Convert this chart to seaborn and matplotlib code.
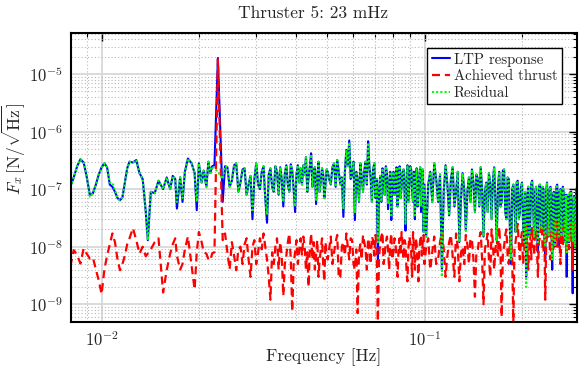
import matplotlib
matplotlib.use("Agg")
import matplotlib.pyplot as plt
import seaborn as sns
import pandas as pd

# ---------------- data ----------------
# frequency in mHz
freq_mhz = [
    8.0, 8.2, 8.4, 8.6, 8.8, 9.0, 9.2, 9.4, 9.6, 9.8,
    10.0, 10.2, 10.4, 10.6, 10.8, 11.0, 11.2, 11.4, 11.6, 11.8,
    12.0, 12.2, 12.5, 12.8, 13.1, 13.4, 13.7, 13.9, 14.2, 14.6,
    15.0, 15.5, 15.9, 16.3, 16.6, 16.9, 17.1, 17.5, 17.8, 18.1,
    18.5, 19.0, 19.4, 19.7, 20.0, 20.4, 20.7, 21.1, 21.4, 21.7,
    22.0, 22.35, 22.9, 23.7, 24.1,
    24.5, 24.9, 25.3, 25.7, 26.1, 26.5, 26.9, 27.3, 27.7, 28.1,
    28.5, 28.9, 29.3, 29.7, 30.1, 30.5, 30.9, 31.3, 31.7, 32.1,
    32.5, 32.9, 33.3, 33.7, 34.1, 34.5, 34.9, 35.3, 35.7, 36.1,
    36.5, 36.9, 37.3, 37.7, 38.1, 38.5, 38.9, 39.3, 39.7, 40.1,
    40.5, 40.9, 41.3, 41.7, 42.1, 42.5, 42.9, 43.3, 43.7, 44.1,
    44.5, 44.9, 45.3, 45.7, 46.1, 46.5, 46.9, 47.3, 47.7, 48.1,
    48.5, 48.9, 49.3, 49.7, 50.1,
    50.6, 51.2, 51.8, 52.4, 53.0, 53.6, 54.2, 54.8, 55.4, 56.0,
    56.6, 57.2, 57.8, 58.4, 59.0, 59.6, 60.2, 60.8, 61.4, 62.0,
    62.6, 63.2, 63.8, 64.4, 65.0, 65.6, 66.2, 66.8, 67.4, 68.0,
    68.6, 69.2, 69.8, 70.4, 71.0, 71.6, 72.2, 72.8, 73.4, 74.0,
    74.6, 75.2, 75.8, 76.4, 77.0, 77.6, 78.2, 78.8, 79.4, 80.0,
    80.6, 81.2, 81.8, 82.4, 83.0, 83.6, 84.2, 84.8, 85.4, 86.0,
    86.6, 87.2, 87.8, 88.4, 89.0, 89.6, 90.2, 90.8, 91.4, 92.0,
    92.6, 93.2, 93.8, 94.4, 95.0, 95.6, 96.2, 96.8, 97.4, 98.0,
    98.6, 99.2, 99.8,
    101, 102.5, 104, 105.5, 107, 108.5, 110, 111.5, 113, 114.5,
    116, 117.5, 119, 120.5, 122, 123.5, 125, 126.5, 128, 129.5,
    131, 132.5, 134, 135.5, 137, 138.5, 140, 141.5, 143, 144.5,
    146, 147.5, 149, 150.5, 152, 153.5, 155, 156.5, 158, 159.5,
    161, 162.5, 164, 165.5, 167, 168.5, 170, 171.5, 173, 174.5,
    176, 177.5, 179, 180.5, 182, 183.5, 185, 186.5, 188, 189.5,
    191, 192.5, 194, 195.5, 197, 198.5, 200, 201.5, 203, 204.5,
    206, 207.5, 209, 210.5, 212, 213.5, 215, 216.5, 218, 219.5,
    221, 222.5, 224, 225.5, 227, 228.5, 230, 231.5, 233, 234.5,
    236, 237.5, 239, 240.5, 242, 243.5, 245, 246.5, 248, 249.5,
    251, 252.5, 254, 255.5, 257, 258.5, 260, 261.5, 263, 264.5,
    266, 267.5, 269, 270.5, 272, 273.5, 275, 276.5, 278, 279.5,
    281, 282.5, 284, 285.5, 287, 288.5, 290, 291.5, 293, 294.5,
    296, 297.5, 299,
]

# amplitude spectral densities in nN/sqrt(Hz)
ltp_response = [
    110, 160, 250, 330, 290, 160, 78, 85, 120, 180,
    240, 280, 240, 120, 110, 90, 70, 64, 72, 130,
    230, 300, 290, 320, 190, 150, 40, 13, 90, 85,
    140, 100, 160, 100, 170, 150, 46, 160, 60, 200,
    340, 280, 190, 43, 280, 130, 210, 110, 300, 190,
    250, 260, 19000, 60, 250,
    240, 110, 140, 260, 280, 90, 130, 220, 230, 80,
    120, 170, 30, 150, 280, 120, 100, 200, 250, 70,
    26, 180, 230, 110, 90, 250, 200, 80, 240, 150,
    50, 190, 260, 120, 90, 270, 210, 100, 40, 180,
    260, 130, 230, 120, 260, 180, 360, 90, 160, 250,
    420, 110, 200, 240, 55, 160, 300, 90, 140, 230,
    180, 70, 120, 220, 200,
    150, 120, 240, 280, 110, 320, 200, 120, 160, 33,
    200, 480, 250, 700, 150, 180, 300, 29, 200, 150,
    60, 280, 170, 90, 210, 300, 120, 680, 250, 160,
    60, 220, 280, 70, 150, 5, 90, 170, 60, 230,
    150, 80, 250, 190, 45, 120, 200, 29, 150, 200,
    80, 130, 240, 50, 150, 250, 70, 110, 200, 220,
    90, 19, 150, 260, 60, 120, 250, 220, 90, 60,
    200, 30, 130, 230, 50, 100, 170, 240, 40, 130,
    220, 18, 120,
    15, 120, 200, 60, 280, 150, 60, 180, 4, 90,
    260, 120, 35, 150, 240, 50, 90, 200, 12, 70,
    190, 100, 19, 90, 160, 60, 220, 130, 40, 180,
    150, 50, 240, 100, 15, 90, 130, 40, 190, 120,
    30, 140, 240, 60, 13, 110, 200, 50, 60, 210,
    220, 40, 30, 160, 150, 20, 5, 100, 120, 50,
    18, 130, 140, 30, 40, 110, 130, 25, 12, 90,
    3, 60, 110, 15, 25, 120, 140, 50, 15, 90,
    110, 20, 8, 100, 120, 30, 20, 110, 100, 15,
    6, 90, 130, 40, 15, 100, 110, 25, 4, 80,
    90, 10, 20, 110, 120, 30, 10, 90, 100, 15,
    30, 110, 90, 20, 12, 80, 3, 60, 80, 12,
    15, 90, 90, 20, 1.55, 60, 75, 10, 15, 100,
    80, 20, 30,
]

residual = [
    110, 160, 250, 330, 290, 160, 74, 85, 120, 180,
    240, 280, 240, 130, 130, 95, 70, 64, 72, 130,
    230, 300, 290, 320, 190, 150, 40, 13, 90, 85,
    140, 100, 160, 100, 170, 150, 60, 160, 70, 200,
    340, 280, 190, 60, 280, 130, 210, 110, 300, 190,
    250, 230, 200, 150, 250,
    240, 110, 140, 260, 280, 90, 130, 220, 230, 80,
    120, 170, 40, 150, 280, 120, 100, 200, 250, 70,
    36, 180, 230, 110, 90, 250, 200, 80, 240, 150,
    60, 190, 260, 120, 90, 270, 210, 100, 50, 180,
    260, 130, 230, 120, 260, 180, 360, 90, 160, 250,
    400, 110, 200, 240, 65, 160, 300, 90, 140, 230,
    180, 70, 120, 220, 200,
    150, 120, 240, 280, 110, 320, 200, 120, 160, 45,
    200, 460, 250, 650, 150, 180, 300, 40, 200, 150,
    60, 280, 170, 90, 210, 300, 120, 640, 250, 160,
    60, 220, 280, 70, 150, 12, 90, 170, 60, 230,
    150, 80, 250, 190, 55, 120, 200, 35, 150, 200,
    80, 130, 240, 50, 150, 250, 70, 110, 200, 220,
    90, 25, 150, 260, 60, 120, 250, 220, 90, 60,
    200, 35, 130, 230, 50, 100, 170, 240, 50, 130,
    220, 18, 120,
    15, 120, 200, 60, 280, 150, 60, 180, 3, 90,
    260, 120, 35, 150, 240, 50, 90, 200, 12, 70,
    190, 100, 19, 90, 160, 60, 220, 130, 40, 180,
    150, 50, 240, 100, 15, 90, 130, 40, 190, 120,
    30, 140, 240, 60, 13, 110, 200, 50, 60, 210,
    220, 40, 30, 160, 150, 20, 6, 100, 120, 50,
    18, 130, 140, 30, 40, 110, 130, 25, 12, 90,
    2, 60, 110, 15, 25, 120, 140, 50, 15, 90,
    110, 20, 12, 100, 120, 30, 20, 110, 100, 15,
    10, 90, 130, 40, 15, 100, 110, 25, 6, 80,
    90, 10, 20, 110, 120, 30, 14, 90, 100, 15,
    30, 110, 90, 20, 12, 80, 8, 60, 80, 12,
    15, 90, 90, 20, 12, 60, 75, 10, 15, 100,
    110, 60, 110,
]

achieved_thrust = [
    4.5, 8.7, 7.1, 5.1, 9.3, 7.5, 6.2, 6.5, 4.0, 2.6,
    1.5, 4.0, 7.0, 11, 17, 12, 6.0, 3.9, 5.0, 7.0,
    11, 14, 21, 13, 7.6, 10, 6.8, 7.6, 9.0, 12,
    14, 1.6, 3.9, 7.6, 11, 14, 7.0, 4.0, 5.0, 9.0,
    15, 4.5, 1.8, 8.0, 18, 12, 8.0, 7.6, 6.0, 5.8,
    7.7, 8.0, 18000, 13, 17,
    8, 4, 12, 7, 3.9, 9, 10, 5, 11, 14,
    6, 3, 10, 13, 5, 8, 14, 9, 17, 10,
    6, 3, 1.2, 8, 5, 10, 14, 4, 12, 7,
    1.4, 5, 7, 12, 17, 6, 0.75, 5, 8, 13,
    5, 9, 14, 7, 15, 10, 4, 8, 2, 9,
    17, 6, 12, 4, 7, 13, 3, 6, 9, 14,
    5, 2.5, 12, 7, 6,
    9, 15, 5, 8, 12, 16, 2.8, 3, 10, 12,
    7, 17, 10, 6, 14, 13, 5, 4, 9, 0.7,
    8, 11, 6, 16, 12, 9, 4, 14, 10, 5,
    15, 13, 7, 16, 9, 0.5, 6, 12, 15, 18,
    5, 7, 12, 15, 9, 4, 11, 17, 6, 8,
    14, 12, 5, 3, 10, 14, 7, 18, 11, 6,
    13, 11, 4, 2.5, 9, 15, 12, 8, 3, 18,
    10, 4, 14, 11, 6, 2.5, 9, 13, 16, 7,
    12, 16, 5,
    10, 14, 4, 8, 15, 5, 6, 12, 18, 9,
    3, 7, 12, 16, 7, 3, 17, 10, 2.5, 8,
    10, 5, 16, 11, 5, 14, 13, 6, 1.35, 8,
    9, 14, 18, 6, 1.0, 9, 12, 17, 6, 3,
    20, 12, 4, 9, 14, 7, 22, 9, 0.6, 8,
    10, 16, 20, 7, 5, 13, 15, 6, 0.5, 9,
    12, 18, 25, 11, 6, 14, 18, 5, 8, 16,
    24, 12, 4, 9, 16, 6, 22, 14, 7, 20,
    19, 9, 3, 12, 14, 20, 25, 10, 8, 17,
    1.2, 10, 16, 22, 26, 12, 6, 15, 20, 9,
    11, 24, 33, 14, 10, 20, 28, 12, 5, 16,
    22, 10, 15, 25, 30, 12, 7, 18, 20, 9,
    13, 22, 26, 10, 4, 14, 18, 28, 24, 10,
    8, 20, 16,
]

series_labels = ["LTP response", "Achieved thrust", "Residual"]
title_text = "Thruster 5: 23 mHz"
xtick_values = [1e-2, 1e-1]
ytick_values = [1e-9, 1e-8, 1e-7, 1e-6, 1e-5]

n = len(freq_mhz)

# unit conversion: mHz -> Hz, nN/sqrt(Hz) -> N/sqrt(Hz)
df = pd.DataFrame({
    "freq": [f * 1e-3 for f in freq_mhz],
    "ltp": [v * 1e-9 for v in ltp_response[:n]],
    "thrust": [v * 1e-9 for v in achieved_thrust[:n]],
    "resid": [v * 1e-9 for v in residual[:n]],
})

# ---------------- styling ----------------
sns.set_style("white")
plt.rcParams.update({
    "font.family": "serif",
    "font.serif": ["cmr10"],
    "mathtext.fontset": "cm",
    "axes.formatter.use_mathtext": True,
})

fig = plt.figure(figsize=(5.79, 3.66), dpi=100)
ax = fig.add_axes([0.1226, 0.120, 0.874, 0.789])

sns.lineplot(data=df, x="freq", y="ltp", ax=ax, color="#0000ff", lw=1.5,
             label=series_labels[0], sort=False, estimator=None)
sns.lineplot(data=df, x="freq", y="thrust", ax=ax, color="#ff0000", lw=1.6,
             linestyle=(0, (3.6, 2.2)), label=series_labels[1], sort=False,
             estimator=None)
sns.lineplot(data=df, x="freq", y="resid", ax=ax, color="#00ff00", lw=1.5,
             linestyle=(0, (1.0, 1.0)), label=series_labels[2], sort=False,
             estimator=None)

ax.set_xscale("log")
ax.set_yscale("log")
ax.set_xticks(xtick_values)
ax.set_yticks(ytick_values)
ax.set_xlim(0.00804, 0.296)
ax.set_ylim(4.9e-10, 5.1e-5)

ax.set_axisbelow(True)
ax.grid(True, which="major", color="#d8d8d8", lw=1.3, ls="-")
ax.grid(True, which="minor", color="#b8b8b8", lw=0.8, ls=(0, (1, 2)))

ax.tick_params(which="both", direction="in", top=True, right=True,
               color="black", labelsize=12, pad=6)
ax.tick_params(which="major", length=6, width=1.0)
ax.tick_params(which="minor", length=3, width=0.8)
for sp in ax.spines.values():
    sp.set_color("black")
    sp.set_linewidth(1.5)

ax.set_title(title_text, fontsize=12.5, pad=11, x=0.478)
ax.set_xlabel("Frequency [Hz]", fontsize=12.5, labelpad=-1)
ax.set_ylabel(r"$F_x\,[\mathrm{N}/\sqrt{\mathrm{Hz}}]$", fontsize=12.5)
ax.yaxis.set_label_coords(-0.084, 0.6)

leg = ax.legend(loc="upper right", frameon=True, fancybox=False,
                edgecolor="black", framealpha=1, fontsize=10.7,
                handlelength=1.2, handletextpad=0.3, labelspacing=0.2,
                borderpad=0.3, borderaxespad=1.0)
leg.get_frame().set_linewidth(1.0)

fig.savefig("out.png", dpi=100)
